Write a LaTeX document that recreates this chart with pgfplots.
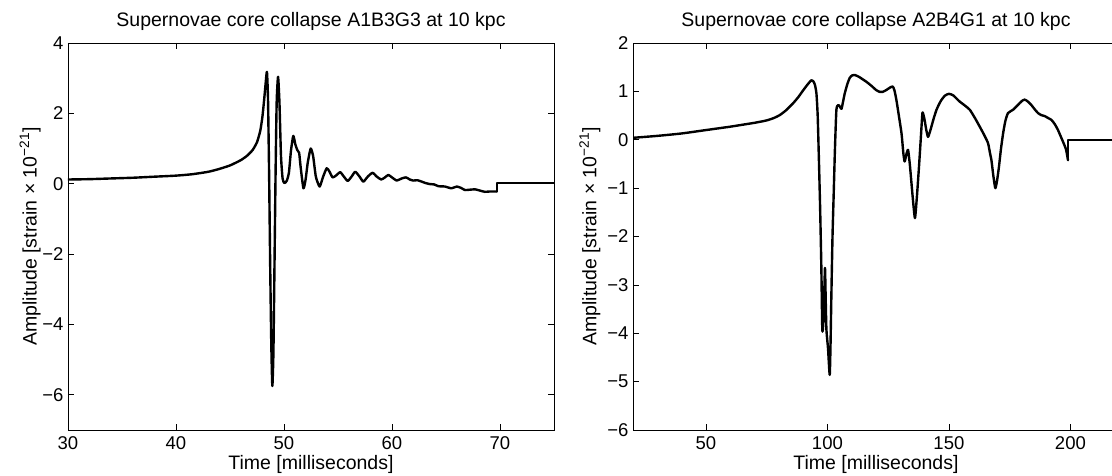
\documentclass[border=0pt]{standalone}
\usepackage{fontspec}
\setmainfont{Liberation Sans}
\usepackage{pgfplots}
\pgfplotsset{compat=1.18}
\usepackage{pgfplotstable}

% A1B3G3: oscillating part (smoothed)
\pgfplotstableread{
t v
30 0.12
32 0.13
34 0.15
36 0.17
38 0.20
40 0.23
41.5 0.27
43 0.34
44 0.42
45 0.52
46 0.67
46.6 0.8
47.1 0.96
47.5 1.18
47.8 1.5
48.0 1.9
48.15 2.35
48.3 2.85
48.42 3.18
48.52 2.4
48.62 0.3
48.72 -2.3
48.82 -4.5
48.92 -5.75
49.02 -4.8
49.12 -2.3
49.22 0.3
49.32 2.3
49.45 3.04
49.58 2.3
49.72 0.8
49.87 0.15
50.03 0.02
50.25 0.08
50.45 0.3
50.65 0.95
50.86 1.36
51.05 1.12
51.23 0.96
51.4 0.88
51.55 0.45
51.8 -0.13
52.0 0.12
52.2 0.6
52.47 1.0
52.7 0.78
52.95 0.2
53.3 -0.08
53.6 0.18
53.95 0.44
54.2 0.35
54.5 0.18
54.85 0.24
55.2 0.33
55.55 0.2
55.9 0.08
56.25 0.2
56.6 0.34
57.0 0.2
57.35 0.06
57.75 0.2
58.2 0.31
58.6 0.2
59.0 0.12
59.35 0.18
59.66 0.25
60.0 0.18
60.43 0.09
60.9 0.15
61.3 0.18
61.65 0.12
61.97 0.09
62.35 0.1
62.75 0.06
63.1 0.02
63.5 -0.01
63.9 -0.02
64.3 -0.07
64.9 -0.08
65.5 -0.13
66.0 -0.08
66.4 -0.12
66.76 -0.18
67.2 -0.17
67.7 -0.16
68.2 -0.2
68.6 -0.23
69.1 -0.22
69.7 -0.22
}\dataA
% A1B3G3: step and flat tail
\pgfplotstableread{
t v
69.7 -0.22
69.7 0.02
75 0.02
}\dataAtail

% A2B4G1: main part (smoothed)
\pgfplotstableread{
t v
20 0.04
30 0.08
40 0.13
50 0.2
60 0.27
65 0.31
70 0.35
75 0.4
78 0.45
80.4 0.51
83 0.61
85.8 0.75
88 0.88
90 1.02
91.8 1.14
93.4 1.23
94.2 1.21
94.9 1.13
95.5 0.95
96.0 0.5
96.5 -0.4
97.0 -1.4
97.5 -2.62
97.9 -3.93
98.3 -3.8
98.6 -3.4
99.0 -2.65
99.3 -3.3
99.6 -3.93
100.25 -4.31
100.95 -4.86
101.3 -4.2
101.6 -3.31
102.1 -2.0
102.6 -1.1
103.1 -0.2
103.7 0.62
104.5 0.72
105.2 0.68
105.8 0.64
106.5 0.8
107.1 0.95
108.2 1.15
109.2 1.28
110.2 1.33
111.2 1.34
113 1.3
114.8 1.24
116 1.2
118 1.12
120 1.03
121.5 0.99
122.8 0.99
124.3 1.03
125.8 1.08
126.9 1.1
127.6 1.02
128.4 0.82
129.4 0.5
130.5 0.13
131.3 -0.3
131.8 -0.45
132.5 -0.3
133.2 -0.21
133.9 -0.5
134.6 -0.9
135.4 -1.35
136.05 -1.62
136.8 -1.2
137.7 -0.55
138.4 0.0
139.1 0.55
139.6 0.5
140.0 0.41
140.7 0.2
141.4 0.06
142.1 0.15
142.8 0.27
143.8 0.45
144.9 0.62
146 0.74
146.9 0.82
148.3 0.91
150 0.95
151.7 0.92
153 0.86
154.4 0.79
156.5 0.71
158.6 0.62
160.7 0.45
162.7 0.27
164.5 0.1
166.1 -0.07
167.0 -0.3
167.5 -0.42
168.3 -0.75
169.1 -1.0
169.8 -0.85
170.6 -0.56
171.4 -0.2
172.3 0.13
173.2 0.38
174.3 0.55
176.4 0.62
178.4 0.72
180 0.8
181.2 0.83
182.5 0.79
183.9 0.72
185.3 0.63
186.7 0.55
188 0.51
189.4 0.49
190.8 0.45
192.2 0.41
193.6 0.32
194.9 0.2
196.1 0.06
197.2 -0.07
198.2 -0.2
199.0 -0.42
}\dataB
% A2B4G1: step and flat tail
\pgfplotstableread{
t v
199.0 -0.42
199.0 0.0
220 0.0
}\dataBtail

\pgfplotsset{
  mystyle/.style={
    scale only axis,
    width=486pt, height=387pt,
    axis line style={black, line width=0.8pt},
    tick style={black, line width=0.7pt},
    major tick length=6pt,
    tick align=inside,
    xtick pos=both, ytick pos=both,
    tick label style={font=\fontsize{18.5}{18.5}\selectfont},
    /pgf/number format/assume math mode=true,
    title style={at={(0.5,1)}, anchor=base, yshift=10pt, font=\fontsize{19.5}{19.5}\selectfont},
    xlabel style={at={(axis description cs:0.5,0)}, anchor=base, yshift=-39pt, font=\fontsize{19.5}{19.5}\selectfont},
    ylabel style={anchor=center, font=\fontsize{19.5}{19.5}\selectfont},
    xticklabel style={yshift=-3pt},
    yticklabel style={xshift=-1pt},
  },
  myline/.style={black, line width=2.4pt, line join=round, line cap=round, mark=none},
}

\begin{document}
\begin{tikzpicture}
\useasboundingbox (0pt,0pt) rectangle (1112pt,475pt);
\begin{axis}[mystyle, at={(68pt,45pt)}, anchor=south west,
  xmin=30, xmax=75, ymin=-7, ymax=4,
  xtick={30,40,50,60,70},
  ytick={-6,-4,-2,0,2,4},
  yticklabels={−6,−4,−2,0,2,4},
  title={Supernovae core collapse A1B3G3 at 10 kpc},
  xlabel={Time [milliseconds]},
  ylabel={Amplitude [strain × 10\textsuperscript{−21}]},
  ylabel style={at={(axis description cs:-0.078,0.5)}},
]
\addplot[myline, smooth, tension=0.35] table[x=t,y=v] {\dataA};
\addplot[myline] table[x=t,y=v] {\dataAtail};
\end{axis}
\begin{axis}[mystyle, at={(633pt,45pt)}, anchor=south west,
  xmin=20, xmax=220, ymin=-6, ymax=2,
  xtick={50,100,150,200},
  ytick={-6,-5,-4,-3,-2,-1,0,1,2},
  yticklabels={−6,−5,−4,−3,−2,−1,0,1,2},
  title={Supernovae core collapse A2B4G1 at 10 kpc},
  xlabel={Time [milliseconds]},
  ylabel={Amplitude [strain × 10\textsuperscript{−21}]},
  ylabel style={at={(axis description cs:-0.0885,0.5)}},
]
\addplot[myline, smooth, tension=0.35] table[x=t,y=v] {\dataB};
\addplot[myline] table[x=t,y=v] {\dataBtail};
\end{axis}
\end{tikzpicture}
\end{document}
